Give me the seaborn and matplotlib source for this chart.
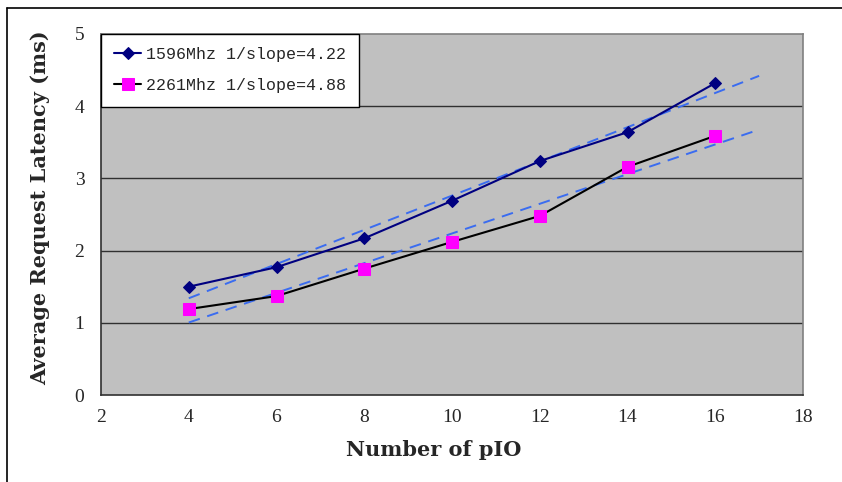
import numpy as np
import pandas as pd
import matplotlib
matplotlib.use('Agg')
import matplotlib.pyplot as plt
import seaborn as sns

# values
pio = [4, 6, 8, 10, 12, 14, 16]
lat_1596 = [1.50, 1.77, 2.17, 2.69, 3.24, 3.64, 4.32]
lat_2261 = [1.19, 1.37, 1.75, 2.12, 2.48, 3.16, 3.59]
labels = ['1596Mhz 1/slope=4.22', '2261Mhz 1/slope=4.88']
x_ticks = [2, 4, 6, 8, 10, 12, 14, 16, 18]
y_ticks = [0, 1, 2, 3, 4, 5]

sns.set_style('white')
plt.rcParams['font.family'] = ['Liberation Serif', 'DejaVu Serif']

fig = plt.figure(figsize=(8.42, 4.82), dpi=100)
ax = fig.add_axes([101 / 842, 87 / 482, 702 / 842, 361 / 482])
ax.set_facecolor('#C0C0C0')

for y in [1, 2, 3, 4]:
    ax.axhline(y, color='#303030', lw=1.0, zorder=1)

# linear trend lines, extended one unit forward
trend_x = np.array([4, 17])
for ys in [lat_1596, lat_2261]:
    k, b = np.polyfit(pio, ys, 1)
    sns.lineplot(x=trend_x, y=k * trend_x + b, ax=ax, color='#3a6cf0',
                 lw=1.4, dashes=False, linestyle=(0, (6, 4)), zorder=2)

df1 = pd.DataFrame({'pio': pio, 'lat': lat_1596})
df2 = pd.DataFrame({'pio': pio, 'lat': lat_2261})
sns.lineplot(data=df1, x='pio', y='lat', ax=ax, color='#000080', lw=1.5,
             marker='D', markersize=6, markeredgecolor='#000080',
             label=labels[0], zorder=3)
sns.lineplot(data=df2, x='pio', y='lat', ax=ax, color='black', lw=1.5,
             marker='s', markersize=8, markerfacecolor='#FF00FF',
             markeredgecolor='#FF00FF', label=labels[1], zorder=3)

ax.set_xlim(2, 18)
ax.set_ylim(0, 5)
ax.set_xticks(x_ticks)
ax.set_yticks(y_ticks)
ax.tick_params(axis='x', direction='in', length=5, width=1, color='#202020',
               labelsize=14, pad=10)
ax.tick_params(axis='y', length=0, labelsize=14, pad=12)
for s in ax.spines.values():
    s.set_color('#808080')
    s.set_linewidth(1.2)
ax.spines['bottom'].set_color('#303030')
ax.spines['left'].set_color('#303030')

ax.set_xlabel('Number of pIO', fontsize=15, family='DejaVu Serif',
              fontweight='semibold', va='center')
ax.xaxis.set_label_coords((434 - 101) / 702, -0.152)
ax.set_ylabel('Average Request Latency (ms)', fontsize=15,
              family='DejaVu Serif', fontweight='bold', va='center')
ax.yaxis.set_label_coords(-0.087, 0.52)

leg = ax.legend(loc='upper left', bbox_to_anchor=(0.0, 1.0), frameon=True,
                fancybox=False, framealpha=1, edgecolor='black',
                prop={'family': 'Liberation Mono', 'size': 12},
                handlelength=1.6, handletextpad=0.3, borderpad=0.8,
                labelspacing=0.95, borderaxespad=0.0)
leg.get_frame().set_linewidth(1.0)
leg.set_zorder(5)

# figure border (top and left, as in the cropped original)
fig.add_artist(plt.Line2D([7 / 842, 842 / 842], [474 / 482, 474 / 482],
                          color='black', lw=1.2, transform=fig.transFigure))
fig.add_artist(plt.Line2D([7 / 842, 7 / 842], [0, 474 / 482],
                          color='black', lw=1.2, transform=fig.transFigure))

fig.savefig('out.png', dpi=100)
